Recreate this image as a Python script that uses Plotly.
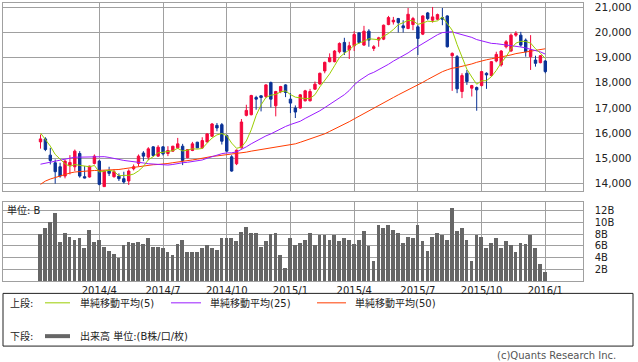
import pandas as pd
import plotly.graph_objects as go

# ---------------- data (weekly) ----------------
week_start = "2014-01-13"
n_weeks = 104

opens = [15648, 15766, 15120, 14817, 14659, 14290, 14725, 14659, 15186, 14264,
         14251, 14791, 14883, 13869, 14488, 14264, 14290, 14185, 14093, 14580,
         14791, 15206, 15041, 15450, 15081, 15450, 15186, 15279, 15410, 15476,
         15015, 15305, 15635, 15410, 15648, 15872, 16306, 16333, 15898, 15054,
         14778, 15410, 16702, 16728, 17414, 17480, 17453, 18007, 17084, 17651,
         17914, 17348, 16992, 16992, 17282, 17282, 17743, 17954, 18468, 18837,
         18837, 19232, 19602, 19298, 19470, 19984, 19496, 20050, 19364, 19694,
         19733, 20313, 20419, 20551, 20261, 20155, 20313, 20221, 19931, 20775,
         20485, 20524, 20590, 20656, 19074, 19035, 17651, 18376, 17783, 17809,
         17888, 18376, 18284, 18863, 18705, 19430, 19259, 19892, 19892, 19694,
         19035, 18903, 18798, 18863]
highs = [15940, 15832, 15410, 14949, 14817, 14949, 15120, 15344, 15279, 14686,
         14700, 15147, 14922, 14500, 14659, 14554, 14396, 14462, 14554, 14750,
         15147, 15279, 15437, 15476, 15516, 15476, 15476, 15490, 15806, 15569,
         15360, 15648, 15650, 15832, 16000, 16399, 16399, 16399, 15938, 15120,
         15344, 16557, 17124, 17519, 17480, 17500, 17941, 18046, 17677, 17875,
         17941, 17585, 17097, 17545, 17717, 17756, 18046, 18402, 18837, 19167,
         19298, 19602, 19786, 19628, 20050, 19997, 20261, 20129, 19496, 19826,
         20313, 20656, 20617, 20577, 20485, 20972, 20617, 20287, 20680, 20814,
         21012, 20748, 20972, 20683, 19206, 19101, 18376, 18508, 17914, 17849,
         18468, 18415, 18863, 19232, 19298, 19694, 19957, 20050, 20023, 19760,
         19892, 19074, 19101, 18903]
lows = [15380, 15280, 14751, 13987, 14224, 14198, 14356, 14488, 14224, 14198,
        14230, 14751, 13921, 13860, 14290, 14224, 14093, 13987, 13934, 14514,
        14686, 14883, 14922, 15054, 15054, 15107, 15081, 15260, 15371, 14725,
        15000, 15279, 15400, 15371, 15620, 15845, 16069, 15542, 15252, 14462,
        14725, 15384, 16663, 16702, 16926, 16860, 17388, 17018, 16663, 17585,
        17427, 16794, 16597, 16966, 17255, 17255, 17717, 17914, 18376, 18811,
        18811, 19167, 19101, 18943, 19259, 19562, 19470, 19430, 19259, 19430,
        19694, 20287, 20313, 19997, 19997, 20129, 20089, 19101, 19894, 20485,
        20392, 20485, 20287, 19400, 17677, 17585, 17388, 17914, 17453, 16886,
        17849, 17756, 18244, 18811, 18640, 19364, 19232, 19826, 19430, 19035,
        18508, 18640, 18771, 18376]
closes = [15766, 15344, 14909, 14462, 14290, 14883, 14830, 15279, 14290, 14211,
          14686, 15081, 13960, 14488, 14396, 14462, 14185, 14053, 14488, 14659,
          15081, 15081, 15371, 15107, 15437, 15173, 15305, 15476, 15569, 14909,
          15344, 15569, 15410, 15700, 15964, 16359, 16201, 15674, 15279, 14488,
          15318, 16438, 16900, 17493, 17348, 17414, 17914, 17348, 17651, 17849,
          17611, 17190, 16834, 17519, 17677, 17651, 17941, 18376, 18811, 18995,
          19259, 19562, 19232, 19470, 19918, 19602, 20050, 19694, 19430, 19786,
          20287, 20590, 20485, 20392, 20182, 20722, 20551, 19760, 20656, 20551,
          20617, 20709, 20524, 19430, 19167, 17756, 18284, 18046, 17888, 17717,
          18442, 18310, 18837, 19127, 19259, 19628, 19892, 19958, 19496, 19232,
          19298, 18771, 19074, 18442]
volume_b = [8.0, 9.1, 10.1, 11.7, 6.7, 8.3, 7.6, 7.1, 7.4, 5.7,
            8.8, 6.7, 7.1, 5.9, 5.2, 4.7, 4.0, 6.2, 6.7, 6.6,
            6.7, 6.4, 7.3, 5.9, 5.9, 5.6, 4.9, 4.5, 6.4, 7.1,
            4.9, 4.9, 4.9, 5.6, 6.2, 5.6, 5.4, 7.3, 7.4, 7.3,
            6.9, 8.4, 9.3, 8.3, 8.3, 5.9, 6.9, 8.1, 8.3, 4.4,
            2.2, 7.3, 6.2, 6.6, 7.1, 8.3, 6.1, 7.9, 7.8, 7.1,
            7.8, 6.9, 7.4, 7.1, 6.4, 7.1, 8.6, 6.0, 3.5, 9.6,
            9.0, 9.5, 8.8, 8.3, 6.6, 7.6, 7.4, 9.6, 6.9, 5.2,
            7.6, 8.3, 7.8, 7.1, 12.5, 8.6, 9.0, 7.1, 3.5, 7.9,
            7.6, 5.6, 6.6, 7.3, 5.7, 6.9, 6.2, 5.0, 6.6, 6.4,
            7.8, 5.6, 3.0, 1.5]

# moving-average values at the start of the window (read from the picture,
# they depend on weeks before the visible range)
ma5_head = [16000, 15740, 15480, 15150]
ma25_head = [14760, 14800, 14840, 14870, 14900, 14960, 15010, 15040, 15040, 15040,
             15040, 15040, 15060, 15060, 15030, 15000, 14950, 14910, 14890, 14880,
             14850, 14810, 14780, 14760]
ma50_head = [13960, 14090, 14170, 14230, 14320, 14370, 14410, 14450, 14470, 14490,
             14500, 14510, 14515, 14520, 14525, 14530, 14550, 14580, 14610, 14650,
             14680, 14710, 14730, 14740, 14750, 14760, 14790, 14820, 14840, 14870,
             14900, 14930, 14960, 15000, 15030, 15070, 15090, 15110, 15130, 15150,
             15180, 15210, 15240, 15280, 15310, 15340, 15380, 15410, 15440]

price_ticks = [14000, 15000, 16000, 17000, 18000, 19000, 20000, 21000]
vol_ticks = [2, 4, 6, 8, 10, 12]
quarter_ticks = ["2014-04-07", "2014-07-07", "2014-10-06", "2015-01-05",
                 "2015-04-06", "2015-07-06", "2015-10-05", "2016-01-04"]
quarter_labels = ["2014/4", "2014/7", "2014/10", "2015/1",
                  "2015/4", "2015/7", "2015/10", "2016/1"]
ma_names = ["単純移動平均(5)", "単純移動平均(25)", "単純移動平均(50)"]

# ---------------- derived ----------------
dates = pd.date_range(week_start, periods=n_weeks, freq="7D")
cs = pd.Series(closes, dtype=float)


def sma(window, head):
    s = cs.rolling(window).mean()
    s.iloc[:len(head)] = head
    return s


ma5 = sma(5, ma5_head)
ma25 = sma(25, ma25_head)
ma50 = sma(50, ma50_head)

W, H = 638, 362
RED = "#f5083c"
BLUE = "#0a3296"
GRID = "#a0a0a0"
TXT = "#222222"

fig = go.Figure()
fig.add_trace(go.Candlestick(
    x=dates, open=opens, high=highs, low=lows, close=closes,
    increasing=dict(line=dict(color=RED, width=1), fillcolor=RED),
    decreasing=dict(line=dict(color=BLUE, width=1), fillcolor=BLUE),
    whiskerwidth=0, xaxis="x", yaxis="y", showlegend=False,
    hoverinfo="skip"))
for vals, col in [(ma50, "#ff3c00"), (ma25, "#9a1cff"), (ma5, "#9acd00")]:
    fig.add_trace(go.Scatter(x=dates, y=vals, mode="lines",
                             line=dict(color=col, width=1),
                             xaxis="x", yaxis="y", showlegend=False,
                             hoverinfo="skip"))
fig.add_trace(go.Bar(x=dates, y=volume_b, marker=dict(color="#666666", line_width=0),
                     width=0.76 * 7 * 86400000, xaxis="x2", yaxis="y2",
                     showlegend=False, hoverinfo="skip"))

# pixel geometry of the panels
px_l, px_r = 3.3, 582.7
bar1_px, pitch_px = 40.5, 4.901          # px position of first week, px per week
day_px = pitch_px / 7
x0 = dates[0] - pd.Timedelta(days=(bar1_px - px_l) / day_px)
x1 = dates[-1] + pd.Timedelta(days=(px_r - (bar1_px + (n_weeks - 1) * pitch_px)) / day_px)


def py(p):
    return 1 - p / H


xaxis_common = dict(range=[x0, x1], domain=[px_l / W, px_r / W],
                    tickvals=quarter_ticks, showgrid=True, gridcolor=GRID,
                    gridwidth=1, showline=True, linecolor=GRID, linewidth=1,
                    mirror=True, zeroline=False, rangeslider=dict(visible=False),
                    ticks="")
fig.update_layout(
    width=W, height=H, margin=dict(l=0, r=0, t=0, b=0),
    paper_bgcolor="white", plot_bgcolor="white",
    font=dict(family="DejaVu Sans, Noto Sans CJK JP", size=10, color=TXT),
    xaxis=dict(anchor="y", showticklabels=False, **xaxis_common),
    xaxis2=dict(anchor="y2", ticktext=quarter_labels, showticklabels=True,
                tickfont=dict(size=10, color=TXT), ticklabeloverflow="allow",
                **xaxis_common),
    yaxis=dict(domain=[py(190.3), py(0.7)], range=[13685, 21182],
               side="right", tickvals=price_ticks, tickformat=",d",
               showgrid=True, gridcolor=GRID, showline=True, linecolor=GRID,
               mirror=True, zeroline=False, ticks="", ticklabelstandoff=9,
               ticklabeloverflow="allow",
               tickfont=dict(size=10.5, color=TXT)),
    yaxis2=dict(domain=[py(280.7), py(201.0)], range=[0, 13.5],
                side="right", tickvals=vol_ticks,
                ticktext=[f"{v}B" for v in vol_ticks],
                showgrid=True, gridcolor=GRID, showline=True, linecolor=GRID,
                mirror=True, zeroline=False, ticks="", ticklabelstandoff=9,
                ticklabeloverflow="allow",
                tickfont=dict(size=10, color=TXT)),
    bargap=0,
)

# panel caption
fig.add_annotation(x=5 / W, y=py(209.5), xref="paper", yref="paper",
                   text="単位: B", showarrow=False, xanchor="left",
                   yanchor="middle", font=dict(size=10, color=TXT))

# custom legend box
shapes = [dict(type="rect", xref="paper", yref="paper", x0=3 / W, x1=633 / W,
               y0=py(346), y1=py(293), line=dict(color="#222222", width=1))]
r1, r2 = 302.5, 336
items = [(45, 70, "#9acd00", 78, ma_names[0]),
         (171, 201, "#9a1cff", 208, ma_names[1]),
         (317, 346, "#ff3c00", 353, ma_names[2])]
for a, b, col, tx, name in items:
    shapes.append(dict(type="line", xref="paper", yref="paper", x0=a / W, x1=b / W,
                       y0=py(r1), y1=py(r1), line=dict(color=col, width=1)))
    fig.add_annotation(x=tx / W, y=py(r1), xref="paper", yref="paper", text=name,
                       showarrow=False, xanchor="left", yanchor="middle",
                       font=dict(size=10, color=TXT))
shapes.append(dict(type="line", xref="paper", yref="paper", x0=45 / W, x1=70 / W,
                   y0=py(r2), y1=py(r2), line=dict(color="#666666", width=4)))
fig.add_annotation(x=8 / W, y=py(r1), xref="paper", yref="paper", text="上段:",
                   showarrow=False, xanchor="left", yanchor="middle",
                   font=dict(size=10, color=TXT))
fig.add_annotation(x=8 / W, y=py(r2), xref="paper", yref="paper", text="下段:",
                   showarrow=False, xanchor="left", yanchor="middle",
                   font=dict(size=10, color=TXT))
fig.add_annotation(x=78 / W, y=py(r2), xref="paper", yref="paper",
                   text="出来高 単位:(B株/口/枚)", showarrow=False,
                   xanchor="left", yanchor="middle", font=dict(size=10, color=TXT))
fig.add_annotation(x=618 / W, y=py(355.5), xref="paper", yref="paper",
                   text="(c)Quants Research Inc.", showarrow=False,
                   xanchor="right", yanchor="middle",
                   font=dict(size=10, color="#555555"))
fig.update_layout(shapes=shapes)

fig.write_html("out.html",
               config={"displayModeBar": False},
               post_script="document.body.style.margin='0';"
                           "document.body.style.overflow='hidden';")
